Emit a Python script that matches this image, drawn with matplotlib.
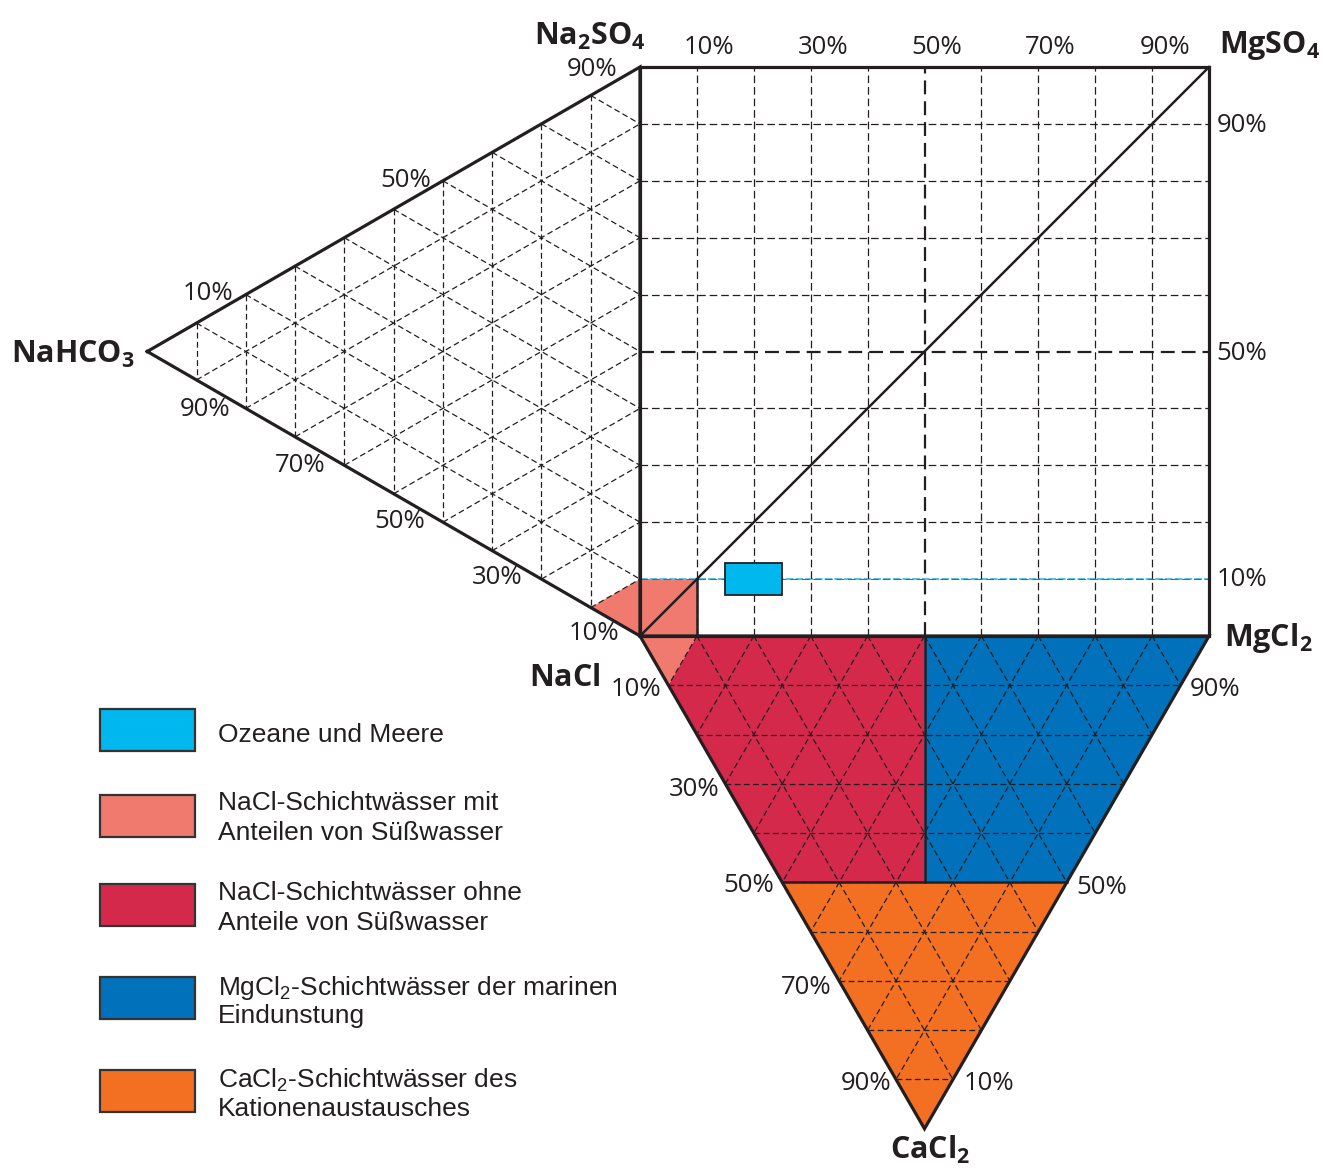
import numpy as np
import matplotlib
matplotlib.use("Agg")
import matplotlib.pyplot as plt
from matplotlib.patches import Polygon

plt.rcParams['lines.scale_dashes'] = False
plt.rcParams['mathtext.fontset'] = 'custom'
plt.rcParams['mathtext.bf'] = 'Open Sans:bold'
plt.rcParams['mathtext.rm'] = 'Liberation Sans'
plt.rcParams['mathtext.it'] = 'Liberation Sans:italic'

# ---------------- data ----------------
grid_pct = [10, 20, 30, 40, 50, 60, 70, 80, 90]
square_top_ticks = ["10%", "30%", "50%", "70%", "90%"]
square_right_ticks = ["90%", "50%", "10%"]
left_top_ticks = ["10%", "50%", "90%"]
left_bottom_ticks = ["90%", "70%", "50%", "30%", "10%"]
bottom_left_ticks = ["10%", "30%", "50%", "70%", "90%"]
bottom_right_ticks = ["90%", "50%", "10%"]

vertex_labels = [r"$\mathbf{Na_2SO_4}$", r"$\mathbf{MgSO_4}$", r"$\mathbf{NaHCO_3}$",
                 r"$\mathbf{NaCl}$", r"$\mathbf{MgCl_2}$", r"$\mathbf{CaCl_2}$"]

legend_labels = [
    "Ozeane und Meere",
    "NaCl-Schichtwässer mit\nAnteilen von Süßwasser",
    "NaCl-Schichtwässer ohne\nAnteile von Süßwasser",
    "MgCl$_2$-Schichtwässer der marinen\nEindunstung",
    "CaCl$_2$-Schichtwässer des\nKationenaustausches",
]
legend_colors = ["#00b7ee", "#f07a6e", "#d4294b", "#0071ba", "#f36f21"]

# square field: (MgSO4-share %, sulphate-share %)
ocean_x = [15, 25]
ocean_y = [7.2, 12.8]
salmon_square = [(0, 0), (10, 0), (10, 10), (0, 10)]
# left triangle: (NaHCO3, Na2SO4, NaCl) %
salmon_left = [(0, 0, 100), (10, 0, 90), (0, 10, 90)]
# bottom triangle: (NaCl, MgCl2, CaCl2) %
salmon_bottom = [(100, 0, 0), (90, 10, 0), (90, 0, 10)]
red_bottom = [(90, 10, 0), (50, 50, 0), (25, 25, 50), (50, 0, 50), (90, 0, 10)]
blue_bottom = [(50, 50, 0), (0, 100, 0), (0, 50, 50), (25, 25, 50)]
orange_bottom = [(50, 0, 50), (0, 50, 50), (0, 0, 100)]

# ---------------- geometry ----------------
W, Hpx = 1326, 1168
S = 5.69            # px per unit
X0, Y0 = 640, 636   # pixel position of NaCl corner
H = 100 * np.sqrt(3) / 2

LT = np.array([[-H, 50], [0, 100], [0, 0]])      # NaHCO3, Na2SO4, NaCl
BT = np.array([[0, 0], [100, 0], [50, -H]])      # NaCl, MgCl2, CaCl2


def tern(V, comp):
    c = np.asarray(comp, float) / 100.0
    return c @ V


fig = plt.figure(figsize=(W / 100, Hpx / 100), dpi=100)
ax = fig.add_axes([0, 0, 1, 1])
ax.set_xlim(-X0 / S, (W - X0) / S)
ax.set_ylim(-(Hpx - Y0) / S, Y0 / S)
ax.set_aspect('auto')
ax.axis('off')

INK = "#231f20"

# fills
for V, poly, col in [(LT, salmon_left, legend_colors[1]),
                     (BT, salmon_bottom, legend_colors[1]),
                     (BT, red_bottom, legend_colors[2]),
                     (BT, blue_bottom, legend_colors[3]),
                     (BT, orange_bottom, legend_colors[4])]:
    pts = np.array([tern(V, p) for p in poly])
    ax.add_patch(Polygon(pts, closed=True, facecolor=col, edgecolor='none', zorder=1))
ax.add_patch(Polygon(np.array(salmon_square), closed=True,
                     facecolor=legend_colors[1], edgecolor='none', zorder=1))


# triangle grids
def tri_grid(V):
    for k in grid_pct:
        f = k / 100
        for i in range(3):
            A = V[i]
            j, l = [m for m in range(3) if m != i]
            p1 = A + f * (V[j] - A)
            p2 = A + f * (V[l] - A)
            ax.plot([p1[0], p2[0]], [p1[1], p2[1]], color=INK, lw=0.9,
                    dashes=(4.2, 2.4), zorder=2)


tri_grid(LT)
tri_grid(BT)

# square grid
for k in grid_pct:
    if k == 50:
        kw = dict(color=INK, lw=1.6, dashes=(10, 5))
    else:
        kw = dict(color=INK, lw=0.9, dashes=(5.5, 2.8))
    ax.plot([k, k], [0, 100], zorder=2, **kw)
    if k == 10:
        ax.plot([0, 100], [k, k], color="#5bbfe6", lw=1.5, dashes=(5.5, 1.5), zorder=2)
        ax.plot([0, 100], [k, k], color="#3a6f85", lw=0.7, dashes=(5.5, 2.8), zorder=2)
    else:
        ax.plot([0, 100], [k, k], zorder=2, **kw)

# diagonal of square
ax.plot([0, 100], [0, 100], color=INK, lw=1.8, zorder=3)

# region borders
ax.plot([10, 10], [0, 10], color=INK, lw=1.8, zorder=3)
p_top = tern(BT, (50, 50, 0)); p_mid = tern(BT, (25, 25, 50))
ax.plot([p_top[0], p_mid[0]], [p_top[1], p_mid[1]], color=INK, lw=1.8, zorder=3)
pa = tern(BT, (50, 0, 50)); pb = tern(BT, (0, 50, 50))
ax.plot([pa[0], pb[0]], [pa[1], pb[1]], color=INK, lw=1.8, zorder=3)

# ocean box
ax.add_patch(Polygon([(ocean_x[0], ocean_y[0]), (ocean_x[1], ocean_y[0]),
                      (ocean_x[1], ocean_y[1]), (ocean_x[0], ocean_y[1])],
                     closed=True, facecolor=legend_colors[0], edgecolor=INK,
                     lw=1.3, zorder=4))

# outlines
ax.plot([0, 100, 100, 0, 0], [0, 0, 100, 100, 0], color=INK, lw=2.3, zorder=5,
        solid_joinstyle='miter')
for V in (LT, BT):
    pts = np.vstack([V, V[:1]])
    ax.plot(pts[:, 0], pts[:, 1], color=INK, lw=2.3, zorder=5, solid_joinstyle='miter')


# ---------------- text ----------------
def ptxt(px, py, s, size, weight='normal', family=None, ha='center', va='center'):
    fam = family or ['Open Sans', 'DejaVu Sans']
    fig.text(px / W, 1 - py / Hpx, s, fontsize=size, fontweight=weight,
             family=fam, ha=ha, va=va, color=INK)


PCT = 18.5
for s, px in zip(square_top_ticks, [709, 823, 937, 1050, 1165]):
    ptxt(px, 48, s, PCT)
for s, py in zip(square_right_ticks, [126, 353, 580]):
    ptxt(1242, py, s, PCT)
for s, (px, py) in zip(left_top_ticks, [(208, 293), (406, 180), (592, 70)]):
    ptxt(px, py, s, PCT)
for s, (px, py) in zip(left_bottom_ticks, [(205, 410), (300, 466), (400, 522), (497, 578), (594, 634)]):
    ptxt(px, py, s, PCT)
for s, (px, py) in zip(bottom_left_ticks, [(636, 690), (694, 790), (749, 886), (806, 987), (866, 1083)]):
    ptxt(px, py, s, PCT)
for s, (px, py) in zip(bottom_right_ticks, [(1215, 690), (1102, 887), (989, 1083)]):
    ptxt(px, py, s, PCT)

VSZ = 22
for s, (px, py) in zip(vertex_labels, [(590, 36), (1270, 46), (73, 354), (565, 678), (1268, 638), (930, 1150)]):
    ptxt(px, py, s, VSZ, weight='bold')

# legend
box_tops = [709, 795, 884, 977, 1070]
text_first = [732, 800, 891, 984, 1077]
for lab, col, bt, ty in zip(legend_labels, legend_colors, box_tops, text_first):
    fig.patches.append(plt.Rectangle((100 / W, 1 - (bt + 42) / Hpx), 95 / W, 42 / Hpx,
                                     transform=fig.transFigure, facecolor=col,
                                     edgecolor="#333333", lw=1.6))
    for i, line in enumerate(lab.split("\n")):
        ptxt(218, ty + 30 * i, line, 19, family=['Liberation Sans', 'DejaVu Sans'],
             ha='left', va='center_baseline')

fig.savefig("out.png", dpi=100)
